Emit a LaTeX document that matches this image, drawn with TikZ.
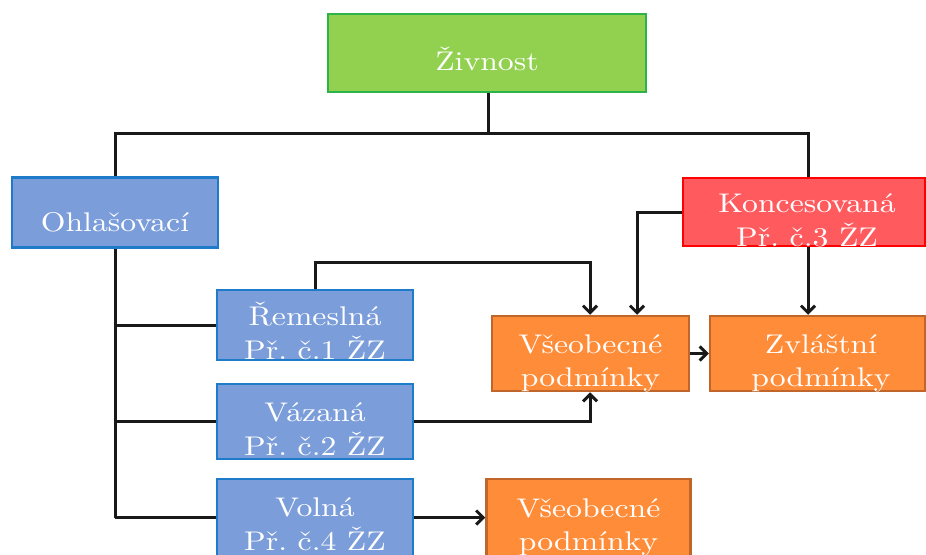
\documentclass[tikz,border=0pt]{standalone}
\usepackage{graphicx}
\usepackage{fontspec}
\newfontfamily\lmten{lmroman10-regular}[Extension=.otf]
\usetikzlibrary{arrows.meta}
\definecolor{gfill}{HTML}{92D050}
\definecolor{gdraw}{HTML}{2DB34A}
\definecolor{bfill}{HTML}{7B9DDA}
\definecolor{bdraw}{HTML}{1E7BC9}
\definecolor{rfill}{HTML}{FF5B5F}
\definecolor{rdraw}{HTML}{FF0000}
\definecolor{ofill}{HTML}{FF8C38}
\definecolor{odraw}{HTML}{C0662A}
\tikzset{
  box/.style={rectangle, inner sep=0pt, line width=2.5pt},
  gbox/.style={box, fill=gfill, draw=gdraw},
  bbox/.style={box, fill=bfill, draw=bdraw},
  rbox/.style={box, fill=rfill, draw=rdraw},
  obox/.style={box, fill=ofill, draw=odraw},
  txt/.style={inner sep=0pt, text=white, align=center, font=\lmten\fontsize{27}{33}\selectfont\frenchspacing},
  conn/.style={line width=3pt, draw=black!90},
  arr/.style={conn, -{Straight Barb[length=7pt,width=14pt]}}
}
\newcommand{\st}[1]{\scalebox{1.175}[1]{\strut #1}}
\begin{document}
\begin{tikzpicture}[x=1pt,y=-1pt]
\useasboundingbox (0,0) rectangle (926,554);
% boxes
\node[gbox, minimum width=318pt, minimum height=78pt] (zivnost) at (487,53) {};
\node[bbox, minimum width=206pt, minimum height=70pt] (ohl) at (115,212.5) {};
\node[rbox, minimum width=242pt, minimum height=68pt] (konc) at (804,212) {};
\node[bbox, minimum width=196pt, minimum height=70pt] (rem) at (315,325) {};
\node[bbox, minimum width=196pt, minimum height=75pt] (vaz) at (315,421.5) {};
\node[bbox, minimum width=196pt, minimum height=77pt] (vol) at (315,517.5) {};
\node[obox, minimum width=197pt, minimum height=75pt] (vseo1) at (590.5,353.5) {};
\node[obox, minimum width=215pt, minimum height=75pt] (zvl) at (817.5,353.5) {};
\node[obox, minimum width=204pt, minimum height=77pt] (vseo2) at (588.5,517.5) {};
% helper coordinates
\coordinate (hub) at (488,133);
\coordinate (rt) at (808,133);
\coordinate (rk) at (590,262);
\coordinate (kk) at (637,212);
% connectors
\draw[conn] (zivnost.south -| hub) -- (hub);
\draw[conn] (ohl.north) |- (rt) -- (konc.north -| rt);
\draw[conn] (ohl.south) -- (ohl.south |- vol.west);
\draw[conn] (rem.west) -- (rem.west -| ohl.south);
\draw[conn] (vaz.west) -- (vaz.west -| ohl.south);
\draw[conn] (vol.west) -- (vol.west -| ohl.south);
\draw[arr] (rem.north) |- (rk) -- (vseo1.north -| rk);
\draw[arr] (konc.west) -| (vseo1.north -| kk);
\draw[arr] (konc.south -| rt) -- (zvl.north -| rt);
\draw[arr] (vseo1.east) -- (zvl.west);
\draw[arr] (vaz.east) -| (vseo1.south -| rk);
\draw[arr] (vol.east) -- (vseo2.west);
% texts
\node[txt] (zivnost-t) at (487,63.4) {\st{Živnost}};
\node[txt] (ohl-t) at (115,224.4) {\st{Ohlašovací}};
\node[txt] (konc-t) at (807,222.9) {\st{Koncesovaná}\\\st{Př. č.3 ŽZ}};
\node[txt] (rem-t) at (315,335.9) {\st{Řemeslná}\\\st{Př. č.1 ŽZ}};
\node[txt] (vaz-t) at (315,431.9) {\st{Vázaná}\\\st{Př. č.2 ŽZ}};
\node[txt] (vol-t) at (315,526.9) {\st{Volná}\\\st{Př. č.4 ŽZ}};
\node[txt] (vseo1-t) at (590.5,362.9) {\st{Všeobecné}\\\st{podmínky}};
\node[txt] (zvl-t) at (821,362.9) {\st{Zvláštní}\\\st{podmínky}};
\node[txt] (vseo2-t) at (588.5,526.9) {\st{Všeobecné}\\\st{podmínky}};
\end{tikzpicture}
\end{document}
